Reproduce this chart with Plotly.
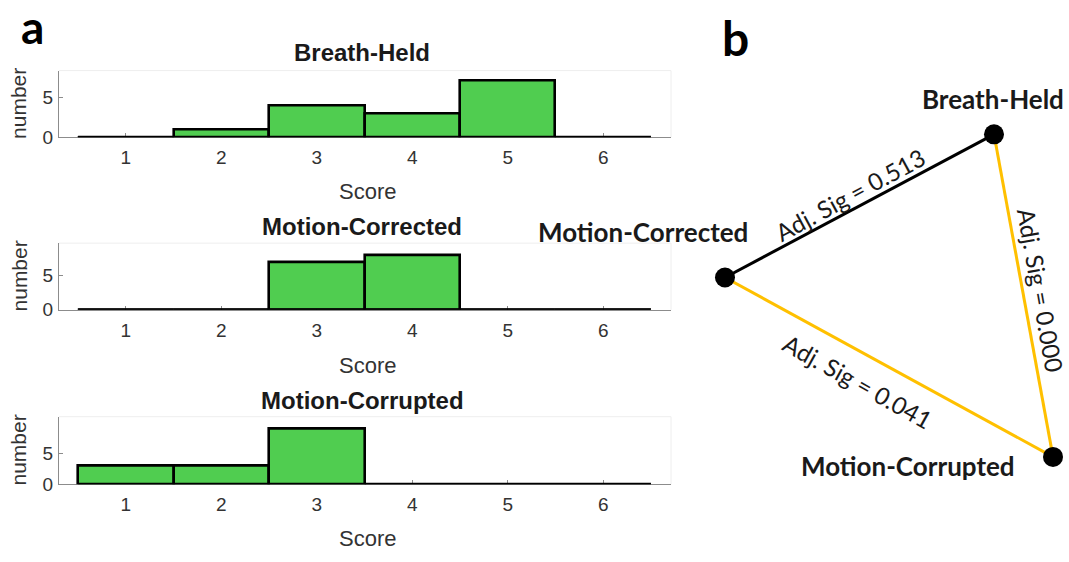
import math
import plotly.graph_objects as go

# ---------------- data ----------------
scores = [1, 2, 3, 4, 5, 6]
breath_held = [0, 1, 4, 3, 7, 0]
motion_corrected = [0, 0, 7, 8, 0, 0]
motion_corrupted = [3, 3, 9, 0, 0, 0]
panel_titles = ["Breath-Held", "Motion-Corrected", "Motion-Corrupted"]

node_names = ["Breath-Held", "Motion-Corrected", "Motion-Corrupted"]
node_x = [994, 725, 1053]
node_y = [137, 283, 466]
edges = [(0, 1, "Adj. Sig = 0.513", "black"),
         (0, 2, "Adj. Sig = 0.000", "#FFC000"),
         (1, 2, "Adj. Sig = 0.041", "#FFC000")]

W, H = 1069, 562
GREEN = "#50CD50"
TICKC = "#333333"

fig = go.Figure()

series = [breath_held, motion_corrected, motion_corrupted]
ydomains = [[1 - 140 / H, 1 - 72 / H], [1 - 316 / H, 1 - 248 / H], [1 - 494 / H, 1 - 425 / H]]
yranges = [[0, 8.3], [0, 9.8], [0, 11]]
score_y = [195, 373, 549]
title_y = [54, 231, 409]
xdom = [59 / W, 671 / W]

annotations = []
shapes = []
for i, vals in enumerate(series):
    n = i + 1
    xa = "x" if n == 1 else f"x{n}"
    ya = "y" if n == 1 else f"y{n}"
    fig.add_trace(go.Bar(x=scores, y=vals, width=1, marker=dict(color=GREEN, line=dict(color="black", width=2.6)),
                         xaxis=xa, yaxis=ya, cliponaxis=False, showlegend=False))
    fig.add_trace(go.Scatter(x=[scores[0] - 0.5, scores[-1] + 0.5], y=[0, 0], mode="lines",
                             line=dict(color="black", width=3.2), xaxis=xa, yaxis=ya,
                             cliponaxis=False, showlegend=False, hoverinfo="skip"))
    axkw = dict(showgrid=False, zeroline=False, showline=True, linecolor="#8c8c8c", linewidth=1,
                ticks="inside", ticklen=4, tickcolor="#8c8c8c", layer="below traces",
                tickfont=dict(family="Liberation Sans", size=19, color=TICKC))
    fig.layout[f"xaxis{'' if n == 1 else n}"] = dict(domain=xdom, range=[0.3, 6.71], anchor=ya,
                                                     tickvals=scores, ticklabelstandoff=3, **axkw)
    fig.layout[f"yaxis{'' if n == 1 else n}"] = dict(domain=ydomains[i], range=yranges[i], anchor=xa,
                                                     tickvals=[0, 5], ticklabelstandoff=1, **axkw)
    # faint box top/right
    shapes.append(dict(type="line", xref=f"{xa} domain", yref=f"{ya} domain", x0=0, x1=1, y0=1, y1=1,
                       line=dict(color="#eeeeee", width=1), layer="below"))
    shapes.append(dict(type="line", xref=f"{xa} domain", yref=f"{ya} domain", x0=1, x1=1, y0=0, y1=1,
                       line=dict(color="#eeeeee", width=1), layer="below"))
    annotations.append(dict(text=f"<b>{panel_titles[i]}</b>", xref="paper", yref="paper",
                            x=362 / W, y=1 - title_y[i] / H, showarrow=False, xanchor="center", yanchor="middle",
                            font=dict(family="Liberation Sans", size=24, color="#1a1a1a")))
    annotations.append(dict(text="Score", xref="paper", yref="paper", x=367 / W, y=1 - score_y[i] / H,
                            showarrow=False, xanchor="center", yanchor="middle",
                            font=dict(family="Liberation Sans", size=22, color=TICKC)))
    annotations.append(dict(text="number", xref="paper", yref="paper", x=19 / W,
                            y=sum(ydomains[i]) / 2, showarrow=False, textangle=-90,
                            xanchor="center", yanchor="middle",
                            font=dict(family="Liberation Sans", size=21, color=TICKC)))

# ---------------- panel b ----------------
x0p = 0.65
fig.layout["xaxis4"] = dict(domain=[x0p, 1], range=[x0p * W, W], visible=False, anchor="y4")
fig.layout["yaxis4"] = dict(domain=[0, 1], range=[H, 0], visible=False, anchor="x4")

label_pos = [(850, 198), (1041, 296), (858, 389)]
for k, (a, b, lab, col) in enumerate(edges):
    fig.add_trace(go.Scatter(x=[node_x[a], node_x[b]], y=[node_y[a], node_y[b]], mode="lines",
                             line=dict(color=col, width=3), xaxis="x4", yaxis="y4",
                             showlegend=False, hoverinfo="skip"))
    ang = math.degrees(math.atan2(node_y[b] - node_y[a], node_x[b] - node_x[a]))
    if ang > 90:
        ang -= 180
    if ang < -90:
        ang += 180
    annotations.append(dict(text=lab, xref="x4", yref="y4", x=label_pos[k][0], y=label_pos[k][1],
                            textangle=ang, showarrow=False, xanchor="center", yanchor="middle",
                            font=dict(family="Lato", size=24, color="#1a1a1a")))

fig.add_trace(go.Scatter(x=node_x, y=node_y, mode="markers", marker=dict(color="black", size=20),
                         xaxis="x4", yaxis="y4", showlegend=False, hoverinfo="skip"))

node_label_pos = [(993, 101), (643, 237), (908, 475)]
for k, name in enumerate(node_names):
    annotations.append(dict(text=f"<b>{name}</b>", xref="paper", yref="paper",
                            x=node_label_pos[k][0] / W, y=1 - node_label_pos[k][1] / H,
                            showarrow=False, xanchor="center", yanchor="middle",
                            font=dict(family="Lato", size=26, color="#1a1a1a")))

annotations.append(dict(text="<b>a</b>", xref="paper", yref="paper", x=32 / W, y=1 - 27 / H, showarrow=False,
                        xanchor="center", yanchor="middle", font=dict(family="Lato", size=46, color="black")))
annotations.append(dict(text="<b>b</b>", xref="paper", yref="paper", x=735 / W, y=1 - 38 / H, showarrow=False,
                        xanchor="center", yanchor="middle", font=dict(family="Lato", size=48, color="black")))

fig.update_layout(width=W, height=H, margin=dict(l=0, r=0, t=0, b=0), plot_bgcolor="white",
                  paper_bgcolor="white", annotations=annotations, shapes=shapes, bargap=0)

fig.write_html("out.html")
